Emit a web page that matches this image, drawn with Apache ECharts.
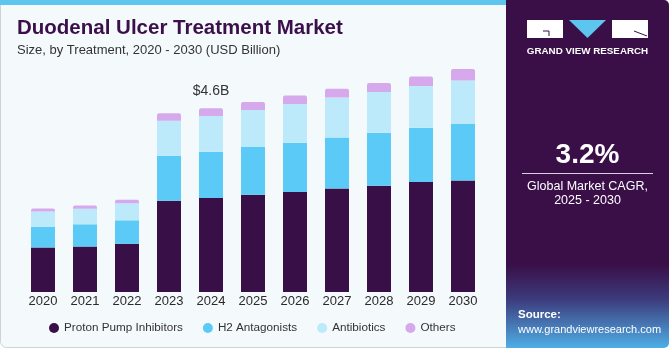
<!DOCTYPE html>
<html><head><meta charset="utf-8">
<script src="https://cdn.jsdelivr.net/npm/echarts@6/dist/echarts.min.js"></script>
<style>html,body{margin:0;padding:0;background:#fff}#c{width:670px;height:350px}</style>
</head><body><div id="c"></div>
<script>
const years = ['2020','2021','2022','2023','2024','2025','2026','2027','2028','2029','2030'];
const ppi = [1.12, 1.14, 1.21, 2.29, 2.36, 2.44, 2.51, 2.60, 2.67, 2.76, 2.80];
const h2 = [0.52, 0.56, 0.59, 1.13, 1.16, 1.20, 1.24, 1.28, 1.33, 1.36, 1.42];
const antibiotics = [0.38, 0.39, 0.43, 0.88, 0.90, 0.93, 0.97, 1.00, 1.02, 1.05, 1.09];
const others = [0.075, 0.083, 0.083, 0.19, 0.19, 0.20, 0.21, 0.22, 0.23, 0.24, 0.29];
const seriesNames = ['Proton Pump Inhibitors','H2 Antagonists','Antibiotics','Others'];
const colors = ['#380f47','#5ccaf6','#bdeafa','#d5a9ec'];
const highlightYear = '2024';
const highlightLabel = '$4.6B';

const chart = echarts.init(document.getElementById('c'));
const FONT = 'Liberation Sans, Arial, sans-serif';
const dataSets = [ppi, h2, antibiotics, others];
const series = dataSets.map((d, i) => ({
  name: seriesNames[i],
  type: 'bar',
  stack: 'total',
  barWidth: 24,
  data: d.map((v, j) => {
    const item = { value: v };
    if (i === 3 && years[j] === highlightYear) {
      item.label = { show: true, position: 'top', distance: 10, formatter: highlightLabel,
        fontSize: 14, color: '#333', fontFamily: FONT };
    }
    return item;
  }),
  itemStyle: { color: colors[i], borderRadius: i === 3 ? [2,2,0,0] : 0 },
  emphasis: { disabled: true },
  silent: true
}));

chart.setOption({
  animation: false,
  backgroundColor: 'transparent',
  textStyle: { fontFamily: FONT },
  title: {
    text: 'Duodenal Ulcer Treatment Market',
    subtext: 'Size, by Treatment, 2020 - 2030 (USD Billion)',
    left: 12, top: 13, itemGap: 5,
    textStyle: { fontFamily: FONT, fontSize: 20.5, fontWeight: 'bold', color: '#3a0f4a' },
    subtextStyle: { fontFamily: FONT, fontSize: 13, color: '#333' }
  },
  legend: {
    left: 44, top: 317, icon: 'circle', itemWidth: 10, itemHeight: 10, itemGap: 20,
    textStyle: { fontFamily: FONT, fontSize: 11.7, color: '#333' },
    data: seriesNames
  },
  grid: { left: 22, right: 186, top: 53, bottom: 58 },
  xAxis: {
    type: 'category', data: years,
    axisLine: { show: false }, axisTick: { show: false },
    axisLabel: { fontSize: 13, color: '#2a2a2a', margin: 3, fontFamily: FONT }
  },
  yAxis: { type: 'value', min: 0, max: 6, show: false, splitLine: { show: false } },
  graphic: [
    { type: 'rect', z: -10, shape: { x: 0.5, y: 0.5, width: 506, height: 347, r: [0,0,0,6] },
      style: { fill: '#f4f9fc', stroke: '#cfd3d6', lineWidth: 1 } },
    { type: 'rect', z: -9, shape: { x: 0, y: 0, width: 506, height: 5 }, style: { fill: '#5cc6ee' } },
    { type: 'rect', z: -8, shape: { x: 506, y: 0, width: 163, height: 348, r: [0,5,5,0] },
      style: { fill: new echarts.graphic.LinearGradient(0,0,0,1,[
        {offset:0,color:'#3a0f48'},{offset:0.76,color:'#3a0f48'},{offset:0.86,color:'#3c3b7c'},{offset:1,color:'#4faee6'}]) } },
    { type: 'rect', z: 1, shape: { x: 527, y: 20, width: 36, height: 18 }, style: { fill: '#ffffff' } },
    { type: 'polyline', z: 2, shape: { points: [[543,31],[549,31],[549,36]] }, style: { stroke: '#3a0f48', lineWidth: 1, fill: null } },
    { type: 'polygon', z: 1, shape: { points: [[569,20],[606,20],[587.5,38]] }, style: { fill: '#5cc6ee' } },
    { type: 'rect', z: 1, shape: { x: 612, y: 20, width: 36, height: 18 }, style: { fill: '#ffffff' } },
    { type: 'line', z: 2, shape: { x1: 634, y1: 31, x2: 647, y2: 36 }, style: { stroke: '#3a0f48', lineWidth: 1 } },
    { type: 'text', z: 2, style: { x: 587.5, y: 51, text: 'GRAND VIEW RESEARCH', fill: '#ffffff',
        font: 'bold 9.8px ' + FONT, align: 'center', verticalAlign: 'middle' } },
    { type: 'text', z: 2, style: { x: 587.5, y: 155, text: '3.2%', fill: '#ffffff',
        font: 'bold 28px ' + FONT, align: 'center', verticalAlign: 'middle' } },
    { type: 'line', z: 2, shape: { x1: 522, y1: 173.5, x2: 653, y2: 173.5 }, style: { stroke: '#d8cfe0', lineWidth: 1 } },
    { type: 'text', z: 2, style: { x: 587.5, y: 187, text: 'Global Market CAGR,', fill: '#ffffff',
        font: '12.5px ' + FONT, align: 'center', verticalAlign: 'middle' } },
    { type: 'text', z: 2, style: { x: 587.5, y: 201, text: '2025 - 2030', fill: '#ffffff',
        font: '12.5px ' + FONT, align: 'center', verticalAlign: 'middle' } },
    { type: 'text', z: 2, style: { x: 518, y: 315, text: 'Source:', fill: '#ffffff',
        font: 'bold 11.5px ' + FONT, align: 'left', verticalAlign: 'middle' } },
    { type: 'text', z: 2, style: { x: 518, y: 330, text: 'www.grandviewresearch.com', fill: '#ffffff',
        font: '11px ' + FONT, align: 'left', verticalAlign: 'middle' } }
  ],
  series: series
});
</script></body></html>
